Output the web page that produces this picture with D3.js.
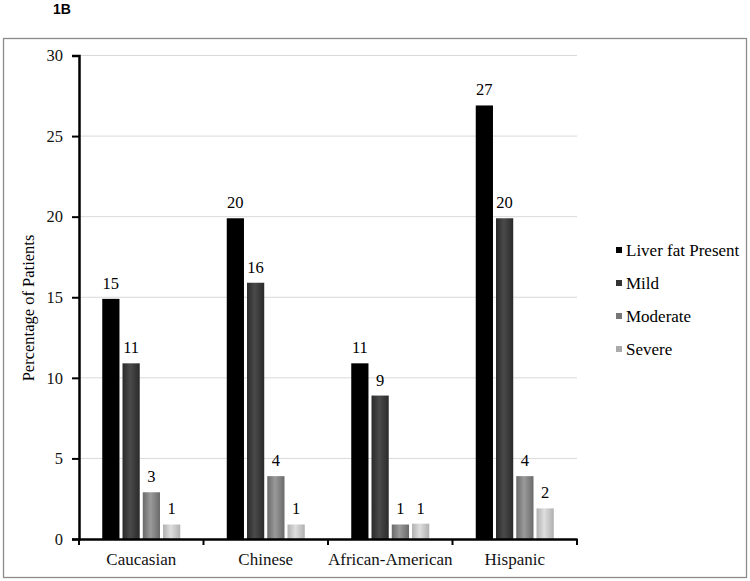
<!DOCTYPE html>
<html>
<head>
<meta charset="utf-8">
<script src="https://cdn.jsdelivr.net/npm/d3@7"></script>
<style>
  body { margin: 0; background: #fff; }
  svg { display: block; font-family: "Liberation Serif", serif; }
</style>
</head>
<body>
<svg id="chart" width="750" height="581"></svg>
<script>
var categories = ['Caucasian', 'Chinese', 'African-American', 'Hispanic'];
var seriesNames = ['Liver fat Present', 'Mild', 'Moderate', 'Severe'];
var liverFat = [14.9, 19.9, 10.9, 26.9];
var mild = [10.9, 15.9, 8.9, 19.9];
var moderate = [2.9, 3.9, 0.9, 3.9];
var severe = [0.9, 0.9, 0.95, 1.9];
var labels = [[15, 20, 11, 27], [11, 16, 9, 20], [3, 4, 1, 4], [1, 1, 1, 2]];
var yTicks = [0, 5, 10, 15, 20, 25, 30];

var series = [liverFat, mild, moderate, severe];
var shades = [['#000', '#000', '#000'], ['#2a2a2a', '#4a4a4a', '#2a2a2a'],
              ['#6a6a6a', '#9a9a9a', '#6a6a6a'], ['#b0b0b0', '#dedede', '#b0b0b0']];
var legendColors = ['#000', '#333', '#777', '#aaa'];
var fontSize = '16.5px';

var svg = d3.select('#chart');

var margin = {left: 79, top: 55.5, right: 577, bottom: 539};

// gradients
var defs = svg.append('defs');
shades.forEach(function(s, i){
    var g = defs.append('linearGradient').attr('id', 'g' + i)
        .attr('x1', 0).attr('x2', 1).attr('y1', 0).attr('y2', 0);
    g.append('stop').attr('offset', '0%').attr('stop-color', s[0]);
    g.append('stop').attr('offset', '45%').attr('stop-color', s[1]);
    g.append('stop').attr('offset', '100%').attr('stop-color', s[2]);
});

// outer frame
svg.append('rect')
    .attr('x', 3.5).attr('y', 38.5).attr('width', 743).attr('height', 539)
    .attr('fill', 'none').attr('stroke', '#8c8c8c').attr('stroke-width', 1.3);

svg.append('text')
    .attr('x', 53).attr('y', 14)
    .style('font-family', 'Liberation Sans, Arial, sans-serif')
    .style('font-weight', 'bold').style('font-size', '14px')
    .text('1B');

var x = d3.scaleBand().domain(categories).range([margin.left, margin.right]);
var xInner = d3.scaleBand().domain(d3.range(4))
    .range([0, 78]).paddingInner(0.15);
var y = d3.scaleLinear().domain([0, 30]).range([margin.bottom, margin.top]);

// gridlines
svg.append('g').selectAll('line').data(yTicks.slice(1)).enter().append('line')
    .attr('x1', margin.left).attr('x2', margin.right)
    .attr('y1', function(d){ return y(d); }).attr('y2', function(d){ return y(d); })
    .attr('stroke', '#d9d9d9').attr('stroke-width', 1);

// bars
var groups = svg.append('g').selectAll('g').data(categories).enter().append('g')
    .attr('transform', function(d){ return 'translate(' + (x(d) + (x.bandwidth() - 78) / 2) + ',0)'; });

groups.each(function(c, ci){
    var g = d3.select(this);
    series.forEach(function(s, si){
        g.append('rect')
            .attr('x', xInner(si)).attr('width', xInner.bandwidth())
            .attr('y', y(s[ci])).attr('height', y(0) - y(s[ci]))
            .attr('fill', 'url(#g' + si + ')');
        g.append('text')
            .attr('x', xInner(si) + xInner.bandwidth() / 2)
            .attr('y', y(s[ci]) - 10)
            .attr('text-anchor', 'middle')
            .style('font-size', fontSize)
            .text(labels[si][ci]);
    });
});

// y axis
var yAxis = svg.append('g')
    .attr('transform', 'translate(' + margin.left + ',0)')
    .call(d3.axisLeft(y).tickValues(yTicks).tickSize(7).tickPadding(9));
yAxis.select('.domain').attr('stroke', '#000').attr('stroke-width', 2.5);
yAxis.selectAll('.tick line').attr('stroke', '#000').attr('stroke-width', 2);
yAxis.selectAll('text').style('font-size', fontSize).style('font-family', 'Liberation Serif, serif').attr('fill', '#111');

// x axis
var xAxis = svg.append('g')
    .attr('transform', 'translate(0,' + margin.bottom + ')')
    .call(d3.axisBottom(x).tickSize(0).tickPadding(14));
xAxis.select('.domain').attr('stroke', '#000').attr('stroke-width', 2.5);
xAxis.selectAll('text').style('font-size', '17px').style('font-family', 'Liberation Serif, serif').attr('fill', '#111');
svg.append('g').selectAll('line')
    .data(categories.map(function(c){ return x(c); }).concat([margin.right]))
    .enter().append('line')
    .attr('x1', function(d){ return d; }).attr('x2', function(d){ return d; })
    .attr('y1', margin.bottom).attr('y2', margin.bottom + 6)
    .attr('stroke', '#000').attr('stroke-width', 2);

// y label
svg.append('text')
    .attr('transform', 'translate(34,308) rotate(-90)')
    .attr('text-anchor', 'middle')
    .style('font-size', '16.5px')
    .text('Percentage of Patients');

// legend
var legend = svg.append('g').selectAll('g').data(seriesNames).enter().append('g')
    .attr('transform', function(d, i){ return 'translate(616,' + (250 + i * 33) + ')'; });
legend.append('rect')
    .attr('x', 0).attr('y', -3).attr('width', 6).attr('height', 6)
    .attr('fill', function(d, i){ return legendColors[i]; });
legend.append('text')
    .attr('x', 10).attr('y', 5.5)
    .style('font-size', '17px')
    .text(function(d){ return d; });
</script>
</body>
</html>
